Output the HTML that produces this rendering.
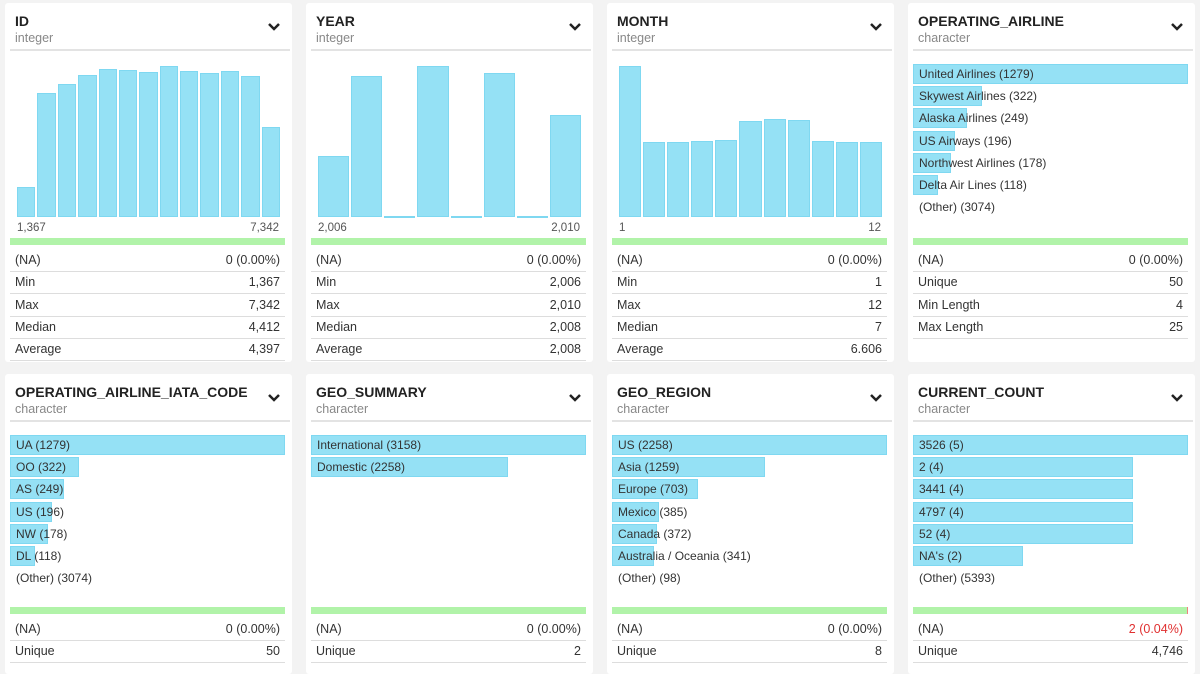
<!DOCTYPE html>
<html><head><meta charset="utf-8"><style>
body{margin:0;width:1200px;height:668px;background:#f3f3f3;overflow:hidden;font-family:"Liberation Sans",sans-serif;color:#333;position:relative}
.card{position:absolute;background:#fff;width:287px;border-radius:3px}
.t{position:absolute;left:10px;top:10px;font-size:14px;font-weight:bold;color:#222}
.s{position:absolute;left:10px;top:28px;font-size:12.5px;color:#888}
.sep{position:absolute;left:5px;width:280px;top:46px;height:2px;background:#e3e3e3}
.chev{position:absolute;left:262px;top:16px}
.bar{position:absolute;background:#95e1f5;border:1px solid #7fd8f1;box-sizing:border-box}
.lbl{position:absolute;font-size:12px;color:#333;white-space:nowrap}
.ax{position:absolute;font-size:11.5px;color:#555}
.green{position:absolute;left:5px;width:275px;height:7px;background:#b1f3a9}
.row{position:absolute;left:5px;width:275px;height:22px;border-bottom:1px solid #ddd;font-size:12.5px;line-height:22px}
.row span{position:absolute}
.row .k{left:5px}.row .v{right:5px}
</style></head><body>
<script>
const idCounts=[30,124,133,142,148,147,145,151,146,144,146,141,90];
const yearCounts=[61,141,1,151,1,144,1,102];
const monthCounts=[152,75,76,77,78,97,99,98,77,76,76];
const airlineCats=["United Airlines","Skywest Airlines","Alaska Airlines","US Airways","Northwest Airlines","Delta Air Lines"];
const airlineVals=[1279,322,249,196,178,118];
const iataCats=["UA","OO","AS","US","NW","DL"];
const iataVals=[1279,322,249,196,178,118];
const geoSumCats=["International","Domestic"];
const geoSumVals=[3158,2258];
const regionCats=["US","Asia","Europe","Mexico","Canada","Australia / Oceania"];
const regionVals=[2258,1259,703,385,372,341];
const countCats=["3526","2","3441","4797","52","NA's"];
const countVals=[5,4,4,4,4,2];

function mk(parent,cls,name,inter){const e=document.createElement('div');if(cls)e.className=cls;


parent.appendChild(e);return e;}

function card(x,y,h,title,sub){
 const c=mk(document.body,'card',title.toLowerCase().replace(/_/g,'-')+'-card',false);
 c.style.left=x+'px';c.style.top=y+'px';c.style.height=h+'px';
 const t=mk(c,'t','card-title',false);t.textContent=title;
 const s=mk(c,'s','column-type',false);s.textContent=sub;
 mk(c,'sep','header-divider',false);
 const ch=mk(c,'chev','expand-chevron',true);
 ch.innerHTML='<svg width="14" height="10"><polyline points="2,2 7,7 12,2" fill="none" stroke="#222" stroke-width="2.5"/></svg>';
 return c;
}
function hist(c,vals,lo,hi){
 const left=12,w=265,bottom=214,maxH=151,maxV=Math.max(...vals);
 const bw=w/vals.length;
 vals.forEach((v,i)=>{const b=mk(c,'bar','histogram-bar',true);
  const h=v/maxV*maxH;b.style.left=(left+i*bw)+'px';b.style.width=(bw-2)+'px';
  b.style.top=(bottom-h)+'px';b.style.height=h+'px';});
 const a=mk(c,'ax','axis-min-label',false);a.textContent=lo;a.style.left='12px';a.style.top='219px';
 const b=mk(c,'ax','axis-max-label',false);b.textContent=hi;b.style.right='13px';b.style.top='219px';
}
function cats(c,names,vals,other){
 const maxV=Math.max(...vals);
 names.forEach((n,i)=>{const b=mk(c,'bar','category-bar',true);
  b.style.left='5px';b.style.width=(vals[i]/maxV*275)+'px';b.style.top=(61+i*22.2)+'px';b.style.height='20px';
  const l=mk(c,'lbl','category-label',false);l.textContent=n+' ('+vals[i]+')';l.style.left='11px';l.style.top=(64+i*22.2)+'px';});
 if(other){const l=mk(c,'lbl','other-label',false);l.textContent=other;l.style.left='11px';l.style.top=(64+names.length*22.2)+'px';}
}
function stats(c,gy,rows){
 const g=mk(c,'green','completeness-bar',false);g.style.top=gy+'px';
 rows.forEach((r,i)=>{const e=mk(c,'row','stat-row',false);e.style.top=(gy+11+i*22.3)+'px';
  e.innerHTML='<span class="k">'+r[0]+'</span><span class="v"'+(r[2]?' style="color:#e03030"':'')+'>'+r[1]+'</span>';});
 return g;
}
let c;
c=card(5,3,359,'ID','integer');hist(c,idCounts,'1,367','7,342');
stats(c,235,[['(NA)','0 (0.00%)'],['Min','1,367'],['Max','7,342'],['Median','4,412'],['Average','4,397']]);
c=card(306,3,359,'YEAR','integer');hist(c,yearCounts,'2,006','2,010');
stats(c,235,[['(NA)','0 (0.00%)'],['Min','2,006'],['Max','2,010'],['Median','2,008'],['Average','2,008']]);
c=card(607,3,359,'MONTH','integer');hist(c,monthCounts,'1','12');
stats(c,235,[['(NA)','0 (0.00%)'],['Min','1'],['Max','12'],['Median','7'],['Average','6.606']]);
c=card(908,3,359,'OPERATING_AIRLINE','character');cats(c,airlineCats,airlineVals,'(Other) (3074)');
stats(c,235,[['(NA)','0 (0.00%)'],['Unique','50'],['Min Length','4'],['Max Length','25']]);
c=card(5,374,300,'OPERATING_AIRLINE_IATA_CODE','character');cats(c,iataCats,iataVals,'(Other) (3074)');
stats(c,233,[['(NA)','0 (0.00%)'],['Unique','50']]);
c=card(306,374,300,'GEO_SUMMARY','character');cats(c,geoSumCats,geoSumVals,null);
stats(c,233,[['(NA)','0 (0.00%)'],['Unique','2']]);
c=card(607,374,300,'GEO_REGION','character');cats(c,regionCats,regionVals,'(Other) (98)');
stats(c,233,[['(NA)','0 (0.00%)'],['Unique','8']]);
c=card(908,374,300,'CURRENT_COUNT','character');cats(c,countCats,countVals,'(Other) (5393)');
const g=stats(c,233,[['(NA)','2 (0.04%)',1],['Unique','4,746']]);
g.style.borderRight='1px solid #f08080';g.style.boxSizing='border-box';
</script>
</body></html>
